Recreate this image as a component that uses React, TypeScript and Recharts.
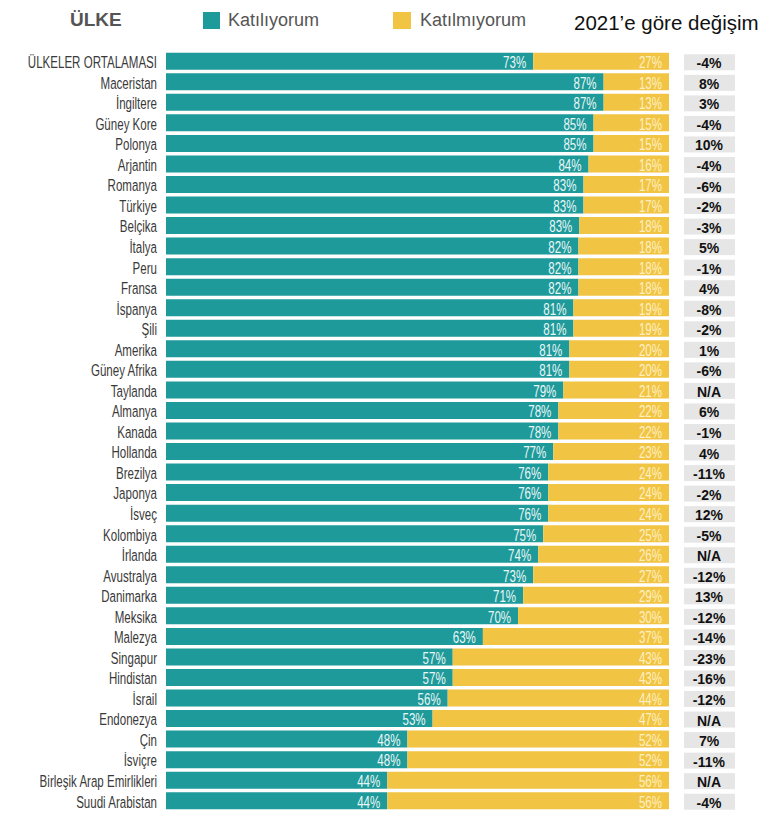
import React from 'react';
import { BarChart, Bar, XAxis, YAxis, LabelList } from 'recharts';

const countries = [
  'ÜLKELER ORTALAMASI', 'Maceristan', 'İngiltere', 'Güney Kore', 'Polonya', 'Arjantin',
  'Romanya', 'Türkiye', 'Belçika', 'İtalya', 'Peru', 'Fransa', 'İspanya', 'Şili',
  'Amerika', 'Güney Afrika', 'Taylanda', 'Almanya', 'Kanada', 'Hollanda', 'Brezilya',
  'Japonya', 'İsveç', 'Kolombiya', 'İrlanda', 'Avustralya', 'Danimarka', 'Meksika',
  'Malezya', 'Singapur', 'Hindistan', 'İsrail', 'Endonezya', 'Çin', 'İsviçre',
  'Birleşik Arap Emirlikleri', 'Suudi Arabistan',
];
const agree = [73, 87, 87, 85, 85, 84, 83, 83, 83, 82, 82, 82, 81, 81, 81, 81, 79, 78, 78, 77, 76, 76, 76, 75, 74, 73, 71, 70, 63, 57, 57, 56, 53, 48, 48, 44, 44];
const disagree = [27, 13, 13, 15, 15, 16, 17, 17, 18, 18, 18, 18, 19, 19, 20, 20, 21, 22, 22, 23, 24, 24, 24, 25, 26, 27, 29, 30, 37, 43, 43, 44, 47, 52, 52, 56, 56];
const change = ['-4%', '8%', '3%', '-4%', '10%', '-4%', '-6%', '-2%', '-3%', '5%', '-1%', '4%', '-8%', '-2%', '1%', '-6%', 'N/A', '6%', '-1%', '4%', '-11%', '-2%', '12%', '-5%', 'N/A', '-12%', '13%', '-12%', '-14%', '-23%', '-16%', '-12%', 'N/A', '7%', '-11%', 'N/A', '-4%'];

const TEAL = '#1f9a9a';
const YELLOW = '#f2c443';
const FONT = '"Liberation Sans", Arial, sans-serif';

const rows = countries.map((country, i) => ({
  country,
  agree: agree[i],
  disagree: disagree[i],
}));

const Narrow = ({ x, y, anchor, color, children }: any) => (
  <text
    transform={`translate(${x},${y}) scale(0.68,1)`}
    textAnchor={anchor}
    dominantBaseline="central"
    fontFamily={FONT}
    fontSize={17}
    fill={color}
  >
    {children}
  </text>
);

const CountryTick = (props: any) => {
  const { x, y, payload } = props;
  return (
    <Narrow x={x - 1} y={y + 1} anchor="end" color="#3a3a3a">
      {payload.value}
    </Narrow>
  );
};

const ChangeTick = (props: any) => {
  const { x, y, index } = props;
  return (
    <g>
      <rect x={x + 7} y={y - 7} width={51} height={16} fill="#e6e6e6" />
      <text
        x={x + 32}
        y={y + 2}
        textAnchor="middle"
        dominantBaseline="central"
        fontFamily={FONT}
        fontSize={14}
        fontWeight="bold"
        fill="#111"
      >
        {change[index]}
      </text>
    </g>
  );
};

const segLabel = (values: number[], color: string) => (props: any) => {
  const { x, y, width, height, index } = props;
  return (
    <Narrow x={x + width - 7} y={y + height / 2 + 1} anchor="end" color={color}>
      {values[index]}%
    </Narrow>
  );
};

export default function App() {
  return (
    <div style={{ position: 'absolute', left: 0, top: 0, width: 770, height: 832, background: '#fff' }}>
      <div style={{ position: 'absolute', left: 70, top: 9, fontFamily: FONT, fontWeight: 'bold', fontSize: 19, color: '#555' }}>
        ÜLKE
      </div>
      <div style={{ position: 'absolute', left: 203, top: 12, width: 17, height: 17, background: TEAL }} />
      <div style={{ position: 'absolute', left: 228, top: 10, fontFamily: FONT, fontSize: 18, color: '#555' }}>
        Katılıyorum
      </div>
      <div style={{ position: 'absolute', left: 393, top: 12, width: 18, height: 17, background: YELLOW }} />
      <div style={{ position: 'absolute', left: 420, top: 10, fontFamily: FONT, fontSize: 18, color: '#555' }}>
        Katılmıyorum
      </div>
      <div style={{ position: 'absolute', left: 574, top: 11, fontFamily: FONT, fontSize: 20.5, color: '#111' }}>
        2021’e göre değişim
      </div>
      <BarChart
        layout="vertical"
        width={770}
        height={832}
        data={rows}
        stackOffset="expand"
        barCategoryGap={1.75}
        margin={{ top: 51, right: 0, bottom: 21, left: 0 }}
      >
        <XAxis type="number" hide domain={[0, 1]} />
        <YAxis
          yAxisId="l"
          type="category"
          dataKey="country"
          width={166}
          axisLine={false}
          tickLine={false}
          interval={0}
          tick={<CountryTick />}
        />
        <YAxis
          yAxisId="r"
          orientation="right"
          type="category"
          dataKey="country"
          width={101}
          axisLine={false}
          tickLine={false}
          interval={0}
          tick={<ChangeTick />}
        />
        <Bar yAxisId="l" dataKey="agree" stackId="s" fill={TEAL} isAnimationActive={false}>
          <LabelList content={segLabel(agree, '#eaf7f7')} />
        </Bar>
        <Bar yAxisId="l" dataKey="disagree" stackId="s" fill={YELLOW} isAnimationActive={false}>
          <LabelList content={segLabel(disagree, '#fdf0c4')} />
        </Bar>
      </BarChart>
    </div>
  );
}
